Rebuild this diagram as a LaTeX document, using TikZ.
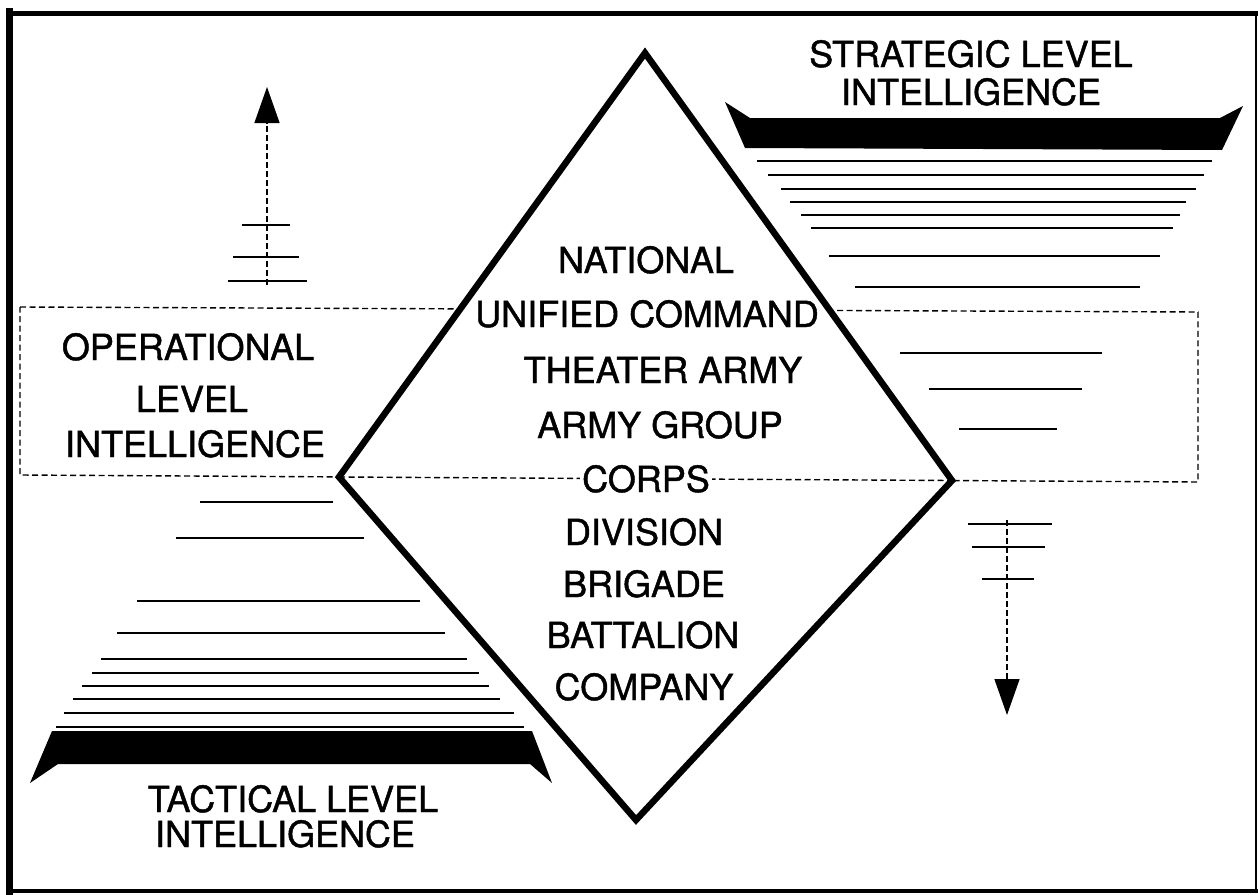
\documentclass[tikz,border=0pt]{standalone}
\usepackage{fontspec}
\setmainfont{TeX Gyre Heros}
\newfontfamily\labelfont{TeX Gyre Heros}[FakeBold=1.2]
\usetikzlibrary{arrows.meta}
\begin{document}
\begin{tikzpicture}[x=1pt,y=-1pt,
  lbl/.style={font=\labelfont\fontsize{36}{40}\selectfont, inner sep=0pt, anchor=base},
  rung/.style={line width=1.8pt},
  dashbox/.style={line width=1.4pt, dash pattern=on 6pt off 3.5pt},
  flow/.style={line width=1.4pt, dash pattern=on 6pt off 3pt, -{Triangle[length=36pt,width=25pt]}},
  diam/.style={line width=6.5pt, line join=miter, fill=white},
  frameline/.style={line cap=rect}
]
\useasboundingbox (0,0) rectangle (1258,894);

% outer frame
\draw[frameline, line width=7pt] (9.5,11) -- (9.5,891);
\draw[frameline, line width=5.5pt] (9.5,13.5) -- (1256,13.5);
\draw[frameline, line width=2.5pt] (1256,13.5) -- (1256,891);
\draw[frameline, line width=3.5pt] (9.5,891) -- (1256,891);

% operational dashed box
\draw[dashbox] (20,307) -- (1198,312) -- (1198,482) -- (20,475) -- cycle;

% strategic bar and rungs
\fill (725,102) -- (750,118) -- (1220,118) -- (1243,106) -- (1222,150) -- (745,148) -- cycle;
\foreach \xa/\xb/\yy in {757/1212/161, 768/1204/175, 781/1196/189, 790/1186/202,
                         801/1180/215, 811/1173/228, 829/1160/256, 855/1140/287,
                         900/1102/353, 929/1082/389, 959/1057/429}
  \draw[rung] (\xa,\yy) -- (\xb,\yy);

% tactical bar and rungs
\fill (52,731) -- (532,731) -- (552,783) -- (530,764) -- (58,764) -- (30,783) -- cycle;
\foreach \xa/\xb/\yy in {200/333/502, 176/364/538, 137/420/601, 117/445/633,
                         101/467/659, 92/479/673, 82/489/686, 73/500/699,
                         64/514/713, 56/524/727}
  \draw[rung] (\xa,\yy) -- (\xb,\yy);

% upward arrow with ticks
\coordinate (upStart) at (267,285);
\coordinate (upTip) at (267,87);
\draw[flow] (upStart) -- (upTip);
\draw[rung] (242,225) -- (290,225);
\draw[rung] (233,257) -- (299,257);
\draw[rung] (228,281) -- (307,281);

% downward arrow with ticks
\coordinate (dnStart) at (1007,520);
\coordinate (dnTip) at (1007,715);
\draw[flow] (dnStart) -- (dnTip);
\draw[rung] (968,524) -- (1052,524);
\draw[rung] (972,547) -- (1045,547);
\draw[rung] (982,579) -- (1034,579);

% diamond
\coordinate (dT) at (645,53);
\coordinate (dR) at (952,480.5);
\coordinate (dB) at (636,820);
\coordinate (dL) at (339,477);
\draw[diam] (dT) -- (dR) -- (dB) -- (dL) -- cycle;
\draw[dashbox] (dL) -- (dR);

% diamond texts
\node[lbl] (national) at (646,273) {NATIONAL};
\node[lbl] (unified) at (647,327) {UNIFIED COMMAND};
\node[lbl] (theater) at (663,383) {THEATER ARMY};
\node[lbl] (armygroup) at (660,438) {ARMY GROUP};
\node[lbl, fill=white, inner xsep=2pt] (corps) at (646,492) {CORPS};
\node[lbl] (division) at (644,545) {DIVISION};
\node[lbl] (brigade) at (644,597) {BRIGADE};
\node[lbl] (battalion) at (643,648) {BATTALION};
\node[lbl] (company) at (644,700) {COMPANY};

% level labels
\node[lbl] (strat1) at (971,67) {STRATEGIC LEVEL};
\node[lbl] (strat2) at (971,105) {INTELLIGENCE};
\node[lbl] (oper1) at (188,360) {OPERATIONAL};
\node[lbl] (oper2) at (192,412) {LEVEL};
\node[lbl] (oper3) at (195,457) {INTELLIGENCE};
\node[lbl] (tact1) at (293,812) {TACTICAL LEVEL};
\node[lbl] (tact2) at (285,847) {INTELLIGENCE};
\end{tikzpicture}
\end{document}
